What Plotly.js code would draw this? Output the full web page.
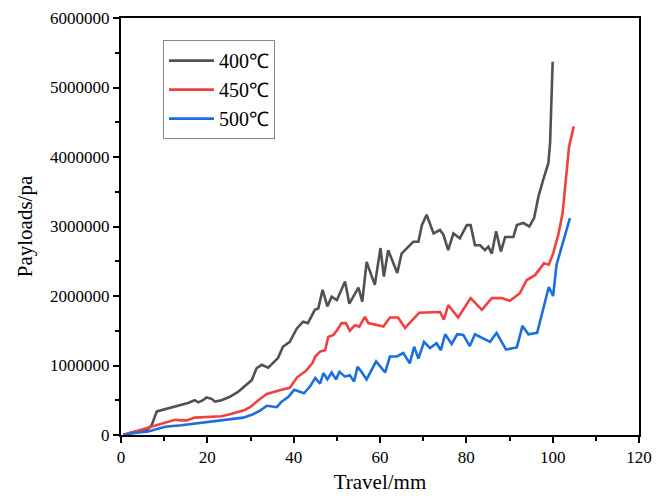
<!DOCTYPE html>
<html>
<head>
<meta charset="utf-8">
<script src="https://cdn.plot.ly/plotly-3.0.1.min.js"></script>
<style>html,body{margin:0;padding:0;background:#fff;}#chart{width:667px;height:496px;}</style>
</head>
<body>
<div id="chart"></div>
<script>
const seriesNames = ["400\u2103", "450\u2103", "500\u2103"];

const x400 = [0.5,3.2,6,7.1,8.3,10.2,11.7,14,15.5,17.1,17.9,19,19.8,21,21.8,23.3,25.2,27.1,28.7,30.3,31.4,32.6,34.1,36.4,37.5,39.1,40.7,42.2,43.3,44.9,45.7,46.7,47.8,48.8,50,51.9,52.9,55,55.9,56.9,58.8,60.1,60.9,61.9,64,65,67.7,68.9,69.7,70.8,72.4,73.9,74.7,75.8,77,78.5,80.1,81,82,83.2,84.3,85.1,85.9,86.9,88,89,90.9,91.7,93.2,94.6,95.7,96.7,97.8,99,99.4,100];
const y400 = [0,50000,70000,140000,340000,370000,400000,430000,460000,500000,470000,500000,540000,520000,480000,500000,550000,620000,700000,790000,960000,1010000,970000,1110000,1270000,1340000,1530000,1630000,1610000,1800000,1820000,2090000,1850000,1990000,1940000,2210000,1890000,2120000,1920000,2490000,2160000,2690000,2280000,2660000,2330000,2610000,2780000,2780000,3020000,3170000,2900000,2950000,2880000,2660000,2900000,2830000,3020000,3020000,2730000,2730000,2660000,2710000,2610000,2930000,2640000,2850000,2850000,3020000,3050000,3000000,3120000,3430000,3670000,3910000,4200000,5370000];

const x450 = [0.5,3.2,6.3,10.2,12.5,14,15.2,17.1,20.2,23.3,25.2,27.2,28.7,29.9,31.8,33.8,35.3,37.2,39.1,40.8,42.8,44.4,45,46.1,47.3,48,49.2,50.1,51.1,52.1,53,54.2,55.2,56.5,57.3,58.1,60.8,62.3,64.2,65.8,69.1,73.9,74.8,75.8,78.1,81,83.6,85.9,88.2,90.1,92.4,94,95.9,98,99.1,100.1,101.3,102.3,103.8,104.9];
const y450 = [0,50000,100000,170000,220000,210000,210000,250000,260000,270000,300000,330000,360000,400000,500000,590000,620000,650000,680000,830000,920000,1040000,1130000,1200000,1220000,1410000,1440000,1510000,1610000,1610000,1500000,1580000,1560000,1700000,1610000,1600000,1560000,1690000,1690000,1540000,1760000,1770000,1660000,1870000,1690000,1970000,1800000,1970000,1970000,1930000,2040000,2230000,2300000,2470000,2450000,2610000,2880000,3190000,4150000,4440000];

const x500 = [0.5,3.2,6.3,10.2,14,17.9,21.8,25.6,28.3,30.3,32.2,33.8,36.1,37.2,38.8,40.1,42.4,43.8,45,46.1,46.9,47.8,48.8,49.8,50.6,51.9,53,54,54.8,55.7,56.9,59.1,61.2,62.3,63.9,65.4,66.9,67.9,68.9,70.2,71.6,73.1,74.1,75.1,76.6,77.9,79.3,80.8,82,85.5,87,89.2,91.7,93,94.4,96.4,99.1,100.1,100.9,104];
const y500 = [0,30000,50000,120000,140000,170000,190000,220000,250000,290000,350000,420000,400000,480000,550000,650000,600000,700000,820000,740000,890000,800000,900000,800000,910000,840000,860000,770000,980000,910000,800000,1060000,900000,1130000,1130000,1180000,1030000,1270000,1100000,1340000,1250000,1320000,1220000,1450000,1310000,1450000,1440000,1280000,1450000,1340000,1470000,1230000,1260000,1570000,1450000,1470000,2130000,2000000,2450000,3120000];

const colors = ["#515151", "#F14040", "#1A6FDF"];
const xs = [x400, x450, x500];
const ys = [y400, y450, y500];

const traces = xs.map((x, i) => ({
  x: x, y: ys[i], name: seriesNames[i], type: "scatter", mode: "lines",
  line: {color: colors[i], width: 2.6}
}));

const font = "'Liberation Serif', 'Times New Roman', serif";
const axisCommon = {
  showline: true, linecolor: "#000", linewidth: 2, mirror: true,
  ticks: "outside", ticklen: 6, tickwidth: 2, tickcolor: "#000",
  showgrid: false, zeroline: false,
  tickfont: {family: font, size: 17, color: "#000"}
};

const layout = {
  width: 667, height: 496,
  margin: {l: 121, r: 28, t: 18, b: 61},
  paper_bgcolor: "#fff", plot_bgcolor: "#fff",
  font: {family: font, color: "#000"},
  showlegend: true,
  legend: {
    x: 0.081, y: 0.947, xanchor: "left", yanchor: "top",
    bgcolor: "rgba(255,255,255,0)", bordercolor: "#888", borderwidth: 1,
    font: {family: font, size: 20, color: "#000"},
    itemwidth: 45, tracegroupgap: 0
  },
  xaxis: Object.assign({}, axisCommon, {
    range: [0, 120], tickvals: [0,20,40,60,80,100,120],
    minor: {ticks: "outside", ticklen: 4, tickwidth: 2, tickcolor: "#000", dtick: 10, tick0: 0},
    title: {text: "Travel/mm", font: {family: font, size: 21, color: "#000"}, standoff: 8}
  }),
  yaxis: Object.assign({}, axisCommon, {
    range: [0, 6000000], dtick: 1000000, tick0: 0, tickformat: "d",
    minor: {ticks: "outside", ticklen: 4, tickwidth: 2, tickcolor: "#000", dtick: 500000, tick0: 0},
    title: {text: "Payloads/pa", font: {family: font, size: 21, color: "#000"}, standoff: 12}
  })
};

Plotly.newPlot("chart", traces, layout, {displayModeBar: false, staticPlot: true});
</script>
</body>
</html>
